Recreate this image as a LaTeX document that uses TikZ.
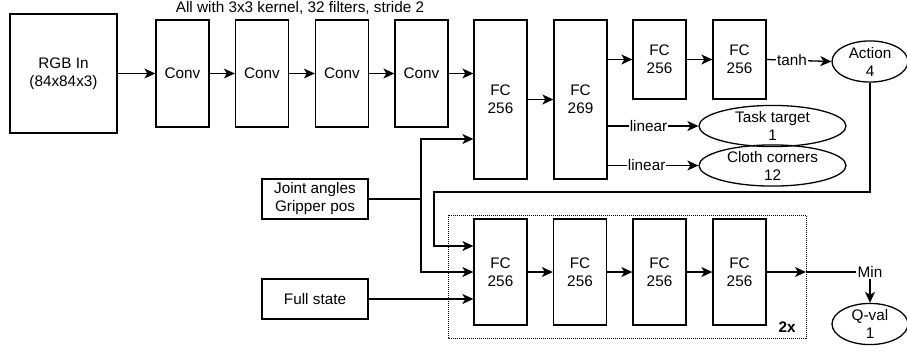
\documentclass[tikz,border=0pt]{standalone}
\usepackage{fontspec}
\setmainfont{Liberation Sans}
\usetikzlibrary{arrows.meta,shapes.geometric,calc}
\begin{document}
\begin{tikzpicture}[x=1pt,y=-1pt,
  every node/.style={font=\fontsize{15.3}{18}\selectfont},
  box/.style={draw,line width=1.3pt,rectangle,inner sep=0pt,align=center},
  oval/.style={draw,line width=1.3pt,ellipse,inner sep=0pt,align=center},
  arr/.style={line width=1.3pt,-{Stealth[length=11pt,width=10pt,inset=3pt]}},
  ln/.style={line width=1.3pt},
  lbl/.style={fill=white,inner sep=1pt}]
\useasboundingbox (0,0) rectangle (907,354);
\node[anchor=center] (title) at (300,8) {All with 3x3 kernel, 32 filters, stride 2};
\node[box,minimum width=107pt,minimum height=119pt] (rgb) at (63.5,73.5) {RGB In\\(84x84x3)};
\node[box,minimum width=53pt,minimum height=107pt] (c1) at (182.5,73.5) {Conv};
\node[box,minimum width=53pt,minimum height=107pt] (c2) at (262,73.5) {Conv};
\node[box,minimum width=53pt,minimum height=107pt] (c3) at (342,73.5) {Conv};
\node[box,minimum width=53pt,minimum height=107pt] (c4) at (421.5,73.5) {Conv};
\node[box,minimum width=53pt,minimum height=159pt] (fa) at (500.5,99.5) {FC\\256};
\node[box,minimum width=53pt,minimum height=159pt] (fb) at (580.5,99.5) {FC\\269};
\node[box,minimum width=53pt,minimum height=79pt] (fc) at (659.5,59.5) {FC\\256};
\node[box,minimum width=53pt,minimum height=79pt] (fd) at (739.5,59.5) {FC\\256};
\node[oval,minimum width=76pt,minimum height=37pt] (act) at (870,61.5) {Action\\4};
\node[oval,minimum width=147pt,minimum height=38pt] (task) at (772.5,126) {Task target\\1};
\node[oval,minimum width=147pt,minimum height=39pt] (cloth) at (772.5,165.5) {Cloth corners\\12};
\node[box,minimum width=106pt,minimum height=40pt] (joint) at (315,199) {Joint angles\\Gripper pos};
\node[box,minimum width=106pt,minimum height=40pt] (full) at (315,299) {Full state};
\draw[line width=1pt,dash pattern=on 1pt off 1pt] (448,215) rectangle (806,338);
\node[box,minimum width=53pt,minimum height=106pt] (q1) at (500.5,272) {FC\\256};
\node[box,minimum width=53pt,minimum height=106pt] (q2) at (580,272) {FC\\256};
\node[box,minimum width=53pt,minimum height=106pt] (q3) at (659.5,272) {FC\\256};
\node[box,minimum width=53pt,minimum height=106pt] (q4) at (739.5,272) {FC\\256};
\node[font=\fontsize{15.3}{18}\selectfont\bfseries] (two) at (787,327) {2x};
\node[lbl,inner sep=1pt] (min) at (870,272) {Min};
\node[oval,minimum width=76pt,minimum height=38pt] (qv) at (870,324) {Q-val\\1};
\coordinate (jb) at (421,199);
\coordinate (jlev) at (0,139);
\coordinate (aturn) at (434,192);
\coordinate (alev) at (0,246);
\coordinate (tlev) at (0,126);
\coordinate (clev) at (0,165.5);
\coordinate (qout) at (806,272);
% encoder
\draw[arr] (rgb.east) -- (c1.west);
\draw[arr] (c1) -- (c2);
\draw[arr] (c2) -- (c3);
\draw[arr] (c3) -- (c4);
\draw[arr] (c4.east) -- (c4.east -| fa.west);
\draw[arr] (fa) -- (fb);
\draw[arr] (fc.west -| fb.east) -- (fc.west);
\draw[arr] (fc) -- (fd);
\draw[arr] (fd.east) -- node[lbl,pos=0.39] {tanh} (act.west);
\draw[arr] (fb.east |- tlev) -- node[lbl,pos=0.45] {linear} (task.west);
\draw[arr] (fb.east |- clev) -- node[lbl,pos=0.43] {linear} (cloth.west);
% state inputs
\draw[ln] (joint.east) -- (jb);
\draw[arr] (jb) |- (fa.west |- jlev);
\draw[arr] (jb) |- (q1.west);
\draw[arr] (full.east) -- (full.east -| q1.west);
\draw[arr] (act.south) |- (aturn) |- (q1.west |- alev);
% critic
\draw[arr] (q1) -- (q2);
\draw[arr] (q2) -- (q3);
\draw[arr] (q3) -- (q4);
\draw[arr] (q4.east) -- (qout);
\draw[ln] (qout) -- (min.west);
\draw[arr] (min.south) -- (qv.north);
\end{tikzpicture}
\end{document}
